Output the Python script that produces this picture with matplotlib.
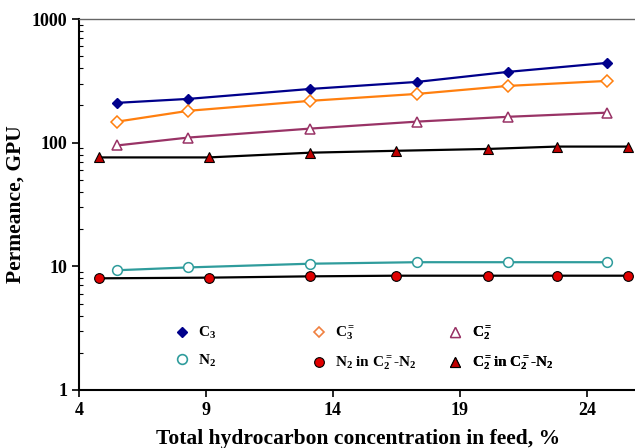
import matplotlib
matplotlib.use("Agg")
import matplotlib.pyplot as plt
from matplotlib.lines import Line2D
from matplotlib.ticker import FixedLocator, LogLocator, NullFormatter

plt.rcParams["font.family"] = ["Liberation Serif", "DejaVu Serif"]
plt.rcParams["font.weight"] = "bold"
plt.rcParams["mathtext.fontset"] = "custom"
plt.rcParams["mathtext.rm"] = "Liberation Serif:bold"
plt.rcParams["mathtext.bf"] = "Liberation Serif:bold"
plt.rcParams["mathtext.it"] = "Liberation Serif:bold"
plt.rcParams["mathtext.default"] = "bf"

# pure-gas runs
x_pure = [5.5, 8.3, 13.1, 17.3, 20.9, 24.8]
c3 = [210, 226, 272, 310, 374, 442]
c3_ene = [148, 181, 218, 248, 288, 316]
c2_ene = [95, 110, 130, 148, 162, 175]
n2 = [9.3, 9.8, 10.5, 10.8, 10.8, 10.8]

# C2= / N2 mixture runs
x_mix = [4.8, 9.1, 13.1, 16.5, 20.1, 22.8, 25.6]
n2_mix = [8.0, 8.1, 8.3, 8.4, 8.4, 8.4, 8.4]
c2_mix = [76, 76, 83, 86, 89, 93, 93]

labels = [
    r"C$_3$",
    r"N$_2$",
    r"C$_3^{=}$",
    r"N$_2$ in C$_2^{=}$-N$_2$",
    r"C$_2^{=}$",
    r"C$_2^{=}$in C$_2^{=}$-N$_2$",
]

NAVY = "#00008b"
ORANGE = "#ff7f0e"
PLUM = "#993366"
TEAL = "#2f9c9c"
RED = "#e00000"
DARKRED = "#c00000"

fig = plt.figure(figsize=(6.35, 4.48), dpi=100)
ax = fig.add_axes([0.1244, 0.1295, 0.880, 0.828])

ax.plot(x_pure, c3, color=NAVY, lw=1.6, marker="D", ms=5.5, mfc=NAVY, mec=NAVY, zorder=3)
ax.plot(x_pure, c3_ene, color=ORANGE, lw=1.6, marker="D", ms=6, mfc="white", mec=ORANGE, mew=1.1, zorder=3)
ax.plot(x_pure, c2_ene, color=PLUM, lw=1.6, marker="^", ms=7, mfc="white", mec=PLUM, mew=1.1, zorder=3)
ax.plot(x_mix, c2_mix, color="black", lw=1.6, marker="^", ms=7, mfc=DARKRED, mec="black", mew=0.8, zorder=3)
ax.plot(x_pure, n2, color=TEAL, lw=1.6, marker="o", ms=7, mfc="white", mec=TEAL, mew=1.1, zorder=3)
ax.plot(x_mix, n2_mix, color="black", lw=1.6, marker="o", ms=7, mfc=RED, mec="black", mew=0.8, zorder=3)

ax.set_yscale("log")
ax.set_ylim(1, 1000)
ax.set_xlim(4, 26)
ax.xaxis.set_major_locator(FixedLocator([4, 9, 14, 19, 24]))
ax.set_yticks([1, 10, 100, 1000])
ax.set_yticklabels(["1", "10", "100", "1000"])
ax.yaxis.set_minor_locator(LogLocator(base=10, subs=range(2, 10)))
ax.yaxis.set_minor_formatter(NullFormatter())

ax.tick_params(axis="both", which="major", direction="out", length=5, width=1.2, labelsize=13)
ax.tick_params(axis="y", which="minor", direction="in", length=3, width=0.8)
for lab in ax.get_xticklabels() + ax.get_yticklabels():
    lab.set_fontweight("bold")

ax.spines["left"].set_linewidth(1.5)
ax.spines["bottom"].set_linewidth(1.5)
ax.spines["top"].set_color("#666666")
ax.spines["top"].set_linewidth(1.0)
ax.spines["right"].set_visible(False)

ax.set_ylabel("Permeance, GPU", fontsize=15.5, fontweight="bold", labelpad=4)
ax.set_xlabel("Total hydrocarbon concentration in feed, %", fontsize=15.5, fontweight="bold", labelpad=7)

handles = [
    Line2D([], [], ls="none", marker="D", ms=5, mfc=NAVY, mec=NAVY),
    Line2D([], [], ls="none", marker="o", ms=7, mfc="white", mec=TEAL, mew=1.2),
    Line2D([], [], ls="none", marker="D", ms=5, mfc="white", mec="#f08040", mew=1.2),
    Line2D([], [], ls="none", marker="o", ms=7, mfc=RED, mec="black", mew=0.8),
    Line2D([], [], ls="none", marker="^", ms=7, mfc="white", mec=PLUM, mew=1.0),
    Line2D([], [], ls="none", marker="^", ms=7, mfc=DARKRED, mec="black", mew=0.8),
]

col_x = [0.17, 0.415, 0.66]
for i, cx in enumerate(col_x):
    leg = ax.legend(
        handles[2 * i:2 * i + 2],
        labels[2 * i:2 * i + 2],
        loc="upper left",
        bbox_to_anchor=(cx, 0.175),
        frameon=False,
        fontsize=11,
        handlelength=1.0,
        handletextpad=0.6,
        labelspacing=0.75,
        borderpad=0,
        borderaxespad=0,
    )
    ax.add_artist(leg)

fig.savefig("out.png", dpi=100)
